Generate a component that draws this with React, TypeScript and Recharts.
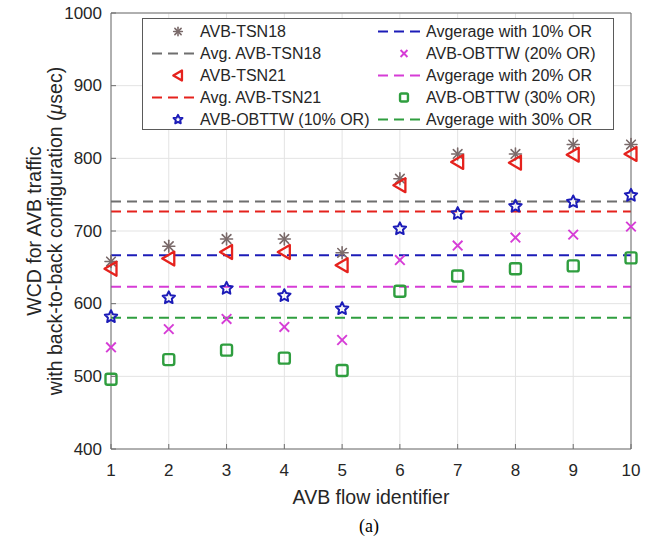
import React from 'react';
import {
  ComposedChart,
  Scatter,
  XAxis,
  YAxis,
  CartesianGrid,
  ReferenceLine,
  Legend,
} from 'recharts';

// AVB flow identifiers and worst-case delays (µs) per scheme
const flowIds = [1, 2, 3, 4, 5, 6, 7, 8, 9, 10];
const tsn18 = [658, 679, 689, 689, 670, 772, 806, 806, 819, 819];
const tsn21 = [648, 662, 671, 671, 653, 763, 795, 794, 805, 806];
const obttw10 = [582, 608, 621, 611, 593, 703, 724, 734, 740, 749];
const obttw20 = [540, 565, 579, 568, 550, 660, 680, 691, 695, 706];
const obttw30 = [496, 523, 536, 525, 508, 617, 638, 648, 652, 663];

const xTicks = [1, 2, 3, 4, 5, 6, 7, 8, 9, 10];
const yTicks = [400, 500, 600, 700, 800, 900, 1000];

const FONT = '"Liberation Sans", Arial, Helvetica, sans-serif';
const TEXT = '#262626';
const AXIS = '#6e6e6e';
const GRID = '#e3e3e3';

const GREY_MARK = '#7a6a6a';
const GREY_LINE = '#6f6f6f';
const RED = '#e5221d';
const BLUE = '#1c1cb8';
const MAGENTA = '#d63cd6';
const GREEN = '#2f9e3f';

const mean = (vals: number[]) => vals.reduce((s, v) => s + v, 0) / vals.length;
const toPoints = (vals: number[]) => flowIds.map((x, i) => ({ x, y: vals[i] }));

// ---- marker glyphs (k scales the glyph) ----------------------------------
const Asterisk = ({ cx, cy, color = GREY_MARK, k = 1 }: any) => {
  const r = 6 * k;
  const d = r * 0.72;
  return (
    <g stroke={color} strokeWidth={1.6} strokeLinecap="round">
      <line x1={cx - r} y1={cy} x2={cx + r} y2={cy} />
      <line x1={cx} y1={cy - r} x2={cx} y2={cy + r} />
      <line x1={cx - d} y1={cy - d} x2={cx + d} y2={cy + d} />
      <line x1={cx - d} y1={cy + d} x2={cx + d} y2={cy - d} />
    </g>
  );
};

const LeftTriangle = ({ cx, cy, color = RED, k = 1 }: any) => (
  <polygon
    points={`${cx - 6.5 * k},${cy} ${cx + 5.5 * k},${cy - 7 * k} ${cx + 5.5 * k},${cy + 7 * k}`}
    fill="none"
    stroke={color}
    strokeWidth={2.3}
    strokeLinejoin="round"
  />
);

const Pentagram = ({ cx, cy, color = BLUE, k = 1 }: any) => {
  const outer = 6.5 * k;
  const inner = 3.2 * k;
  const pts: string[] = [];
  for (let i = 0; i < 10; i++) {
    const r = i % 2 === 0 ? outer : inner;
    const a = -Math.PI / 2 + (i * Math.PI) / 5;
    pts.push(`${cx + r * Math.cos(a)},${cy + r * Math.sin(a)}`);
  }
  return (
    <polygon points={pts.join(' ')} fill="none" stroke={color} strokeWidth={2} strokeLinejoin="round" />
  );
};

const Cross = ({ cx, cy, color = MAGENTA, k = 1 }: any) => {
  const r = 4.8 * k;
  return (
    <g stroke={color} strokeWidth={1.9}>
      <line x1={cx - r} y1={cy - r} x2={cx + r} y2={cy + r} />
      <line x1={cx - r} y1={cy + r} x2={cx + r} y2={cy - r} />
    </g>
  );
};

const Square = ({ cx, cy, color = GREEN, k = 1 }: any) => (
  <rect
    x={cx - 5.5 * k}
    y={cy - 5.5 * k}
    width={11 * k}
    height={11 * k}
    rx={2 * k}
    fill="none"
    stroke={color}
    strokeWidth={2.4}
  />
);

// ---- legend ---------------------------------------------------------------
type LegendItem = { label: string; kind: 'marker' | 'line'; color: string; Glyph?: any };

const legendLeft: LegendItem[] = [
  { label: 'AVB-TSN18', kind: 'marker', color: GREY_MARK, Glyph: Asterisk },
  { label: 'Avg. AVB-TSN18', kind: 'line', color: GREY_LINE },
  { label: 'AVB-TSN21', kind: 'marker', color: RED, Glyph: LeftTriangle },
  { label: 'Avg. AVB-TSN21', kind: 'line', color: RED },
  { label: 'AVB-OBTTW (10% OR)', kind: 'marker', color: BLUE, Glyph: Pentagram },
];
const legendRight: LegendItem[] = [
  { label: 'Avgerage with 10% OR', kind: 'line', color: BLUE },
  { label: 'AVB-OBTTW (20% OR)', kind: 'marker', color: MAGENTA, Glyph: Cross },
  { label: 'Avgerage with 20% OR', kind: 'line', color: MAGENTA },
  { label: 'AVB-OBTTW (30% OR)', kind: 'marker', color: GREEN, Glyph: Square },
  { label: 'Avgerage with 30% OR', kind: 'line', color: GREEN },
];

const LEGEND_W = 472;
const LEGEND_H = 112;

const LegendColumn = ({ items, x0 }: { items: LegendItem[]; x0: number }) => (
  <g>
    {items.map((it, i) => {
      const y = 13.5 + i * 22;
      return (
        <g key={it.label}>
          {it.kind === 'marker' && it.Glyph ? (
            <it.Glyph cx={x0 + 26} cy={y} color={it.color} k={0.72} />
          ) : (
            <line x1={x0} y1={y} x2={x0 + 46} y2={y} stroke={it.color} strokeWidth={2} strokeDasharray="10 6" />
          )}
          <text x={x0 + 48} y={y} dominantBaseline="central" fontSize={16} fill={TEXT} fontFamily={FONT}>
            {it.label}
          </text>
        </g>
      );
    })}
  </g>
);

const LegendBox = () => (
  <svg width={LEGEND_W} height={LEGEND_H} style={{ display: 'block' }}>
    <rect x={0.5} y={0.5} width={LEGEND_W - 1} height={LEGEND_H - 1} fill="#ffffff" stroke="#5a5a5a" strokeWidth={1} />
    <LegendColumn items={legendLeft} x0={10} />
    <LegendColumn items={legendRight} x0={236} />
  </svg>
);

// ---- axis ticks (inward tick marks) --------------------------------------
const TICK_LEN = 5;

const BottomTick = ({ x, y, payload }: any) => (
  <g>
    <line x1={x} y1={y} x2={x} y2={y - TICK_LEN} stroke={AXIS} strokeWidth={1} />
    <text x={x} y={y + 21} textAnchor="middle" dominantBaseline="central" fontSize={17} fill={TEXT} fontFamily={FONT}>
      {payload.value}
    </text>
  </g>
);

const LeftTick = ({ x, y, payload }: any) => (
  <g>
    <line x1={x} y1={y} x2={x + TICK_LEN} y2={y} stroke={AXIS} strokeWidth={1} />
    <text x={x - 9} y={y} textAnchor="end" dominantBaseline="central" fontSize={17} fill={TEXT} fontFamily={FONT}>
      {payload.value}
    </text>
  </g>
);

const TopTick = ({ x, y }: any) => (
  <line x1={x} y1={y} x2={x} y2={y + TICK_LEN} stroke={AXIS} strokeWidth={1} />
);

const RightTick = ({ x, y }: any) => (
  <line x1={x} y1={y} x2={x - TICK_LEN} y2={y} stroke={AXIS} strokeWidth={1} />
);

const YLabel = ({ viewBox }: any) => {
  const cy = viewBox.y + viewBox.height / 2;
  return (
    <g fontFamily={FONT} fontSize={19.5} fill={TEXT}>
      <text x={34} y={cy} textAnchor="middle" dominantBaseline="central" transform={`rotate(-90, 34, ${cy})`}>
        WCD for AVB traffic
      </text>
      <text x={55} y={cy} textAnchor="middle" dominantBaseline="central" transform={`rotate(-90, 55, ${cy})`}>
        with back-to-back configuration (<tspan fontStyle="italic">μ</tspan>sec)
      </text>
    </g>
  );
};

const XLabel = ({ viewBox }: any) => {
  const cx = viewBox.x + viewBox.width / 2;
  return (
    <g>
      <text x={cx} y={viewBox.y + 48} textAnchor="middle" dominantBaseline="central" fontSize={19.5} fill={TEXT} fontFamily={FONT}>
        AVB flow identifier
      </text>
      <text
        x={cx - 2}
        y={viewBox.y + 77}
        textAnchor="middle"
        dominantBaseline="central"
        fontSize={18}
        fill="#000000"
        fontFamily='"Liberation Serif", "Times New Roman", serif'
      >
        (a)
      </text>
    </g>
  );
};

const averages = [
  { value: mean(tsn18), color: GREY_LINE },
  { value: mean(tsn21), color: RED },
  { value: mean(obttw10), color: BLUE },
  { value: mean(obttw20), color: MAGENTA },
  { value: mean(obttw30), color: GREEN },
];

const series = [
  { name: 'AVB-TSN18', values: tsn18, Glyph: Asterisk },
  { name: 'AVB-TSN21', values: tsn21, Glyph: LeftTriangle },
  { name: 'AVB-OBTTW (10% OR)', values: obttw10, Glyph: Pentagram },
  { name: 'AVB-OBTTW (20% OR)', values: obttw20, Glyph: Cross },
  { name: 'AVB-OBTTW (30% OR)', values: obttw30, Glyph: Square },
];

export default function App() {
  return (
    <div style={{ position: 'absolute', left: 0, top: 0, width: 656, height: 544, background: '#ffffff' }}>
      <ComposedChart width={656} height={544} margin={{ top: 12, right: 24, bottom: 0, left: 0 }}>
        <CartesianGrid stroke={GRID} strokeWidth={1} />
        <XAxis
          dataKey="x"
          type="number"
          domain={[1, 10]}
          ticks={xTicks}
          height={95}
          tickSize={0}
          tickMargin={0}
          tickLine={false}
          axisLine={{ stroke: AXIS }}
          tick={<BottomTick />}
          interval={0}
          label={<XLabel />}
        />
        <XAxis
          xAxisId="top"
          orientation="top"
          type="number"
          domain={[1, 10]}
          ticks={xTicks}
          height={1}
          tickSize={0}
          tickMargin={0}
          tickLine={false}
          axisLine={{ stroke: AXIS }}
          tick={<TopTick />}
          interval={0}
        />
        <YAxis
          dataKey="y"
          type="number"
          domain={[400, 1000]}
          ticks={yTicks}
          width={111}
          tickSize={0}
          tickMargin={0}
          tickLine={false}
          axisLine={{ stroke: AXIS }}
          tick={<LeftTick />}
          interval={0}
          label={<YLabel />}
        />
        <YAxis
          yAxisId="right"
          orientation="right"
          type="number"
          domain={[400, 1000]}
          ticks={yTicks}
          width={1}
          tickSize={0}
          tickMargin={0}
          tickLine={false}
          axisLine={{ stroke: AXIS }}
          tick={<RightTick />}
          interval={0}
        />
        {averages.map((a) => (
          <ReferenceLine
            key={a.color}
            y={a.value}
            stroke={a.color}
            strokeWidth={2}
            strokeDasharray="10 6"
          />
        ))}
        {series.map((s) => (
          <Scatter
            key={s.name}
            name={s.name}
            data={toPoints(s.values)}
            isAnimationActive={false}
            shape={(p: any) => <s.Glyph cx={p.cx} cy={p.cy} />}
          />
        ))}
        <Legend
          layout="vertical"
          align="center"
          verticalAlign="middle"
          wrapperStyle={{ position: 'absolute', left: 142, top: 18, width: LEGEND_W, height: LEGEND_H }}
          content={() => <LegendBox />}
        />
      </ComposedChart>
    </div>
  );
}
